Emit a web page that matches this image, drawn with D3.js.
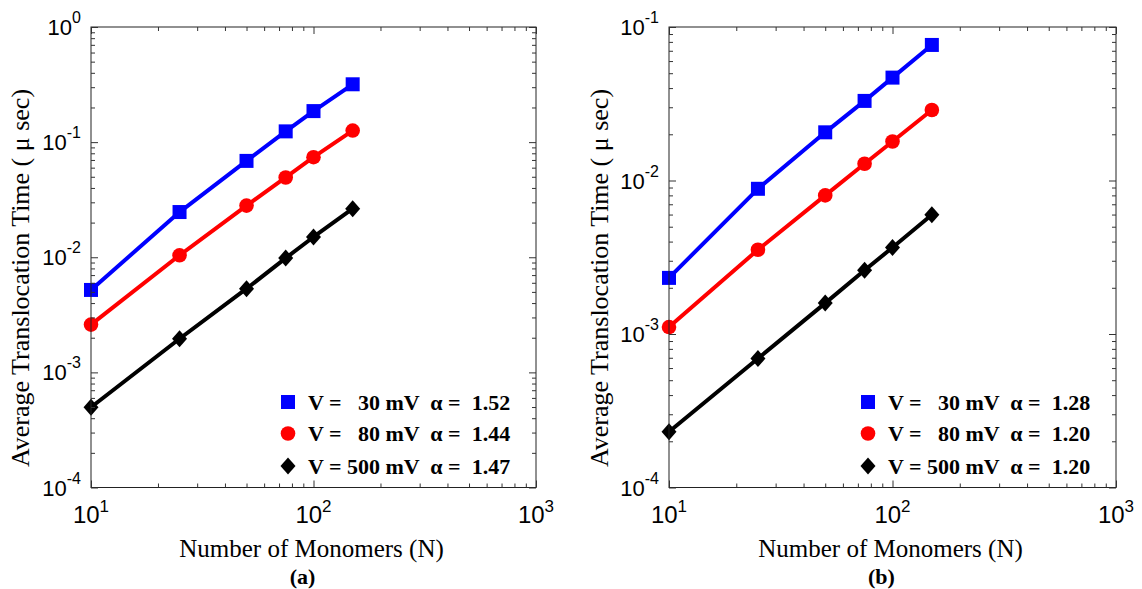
<!DOCTYPE html>
<html>
<head>
<meta charset="utf-8">
<title>Translocation time vs N</title>
<script src="https://cdn.jsdelivr.net/npm/d3@7"></script>
<style>
  body { margin: 0; background: white; }
  text { font-family: "Liberation Serif", "Times New Roman", serif; fill: black; }
  .tl { font-family: "Liberation Sans", Arial, sans-serif; }
  .legend text { font-weight: bold; font-size: 22px; white-space: pre; }
</style>
</head>
<body>
<script>
// chain length (x values, shared by every series)
const monomers = [10, 25, 50, 75, 100, 150];

// panel (a): average translocation time in microseconds
const timeA_30mV  = [0.0052, 0.0247, 0.0687, 0.124, 0.186, 0.318];
const timeA_80mV  = [0.0026, 0.0104, 0.0281, 0.0493, 0.074, 0.126];
const timeA_500mV = [0.000498, 0.00196, 0.00533, 0.00984, 0.0150, 0.0264];

// panel (b)
const timeB_30mV  = [0.00232, 0.00883, 0.0206, 0.033, 0.0468, 0.0764];
const timeB_80mV  = [0.00111, 0.00354, 0.0080, 0.01285, 0.01795, 0.0288];
const timeB_500mV = [0.000231, 0.000692, 0.00159, 0.0026, 0.00366, 0.00598];

const voltageLabels = ["V =   30 mV", "V =   80 mV", "V = 500 mV"];
const alphaA = ["1.52", "1.44", "1.47"];
const alphaB = ["1.28", "1.20", "1.20"];

// tick labels are 10^exp
const xTickExps = [1, 2, 3];
const yTickExpsA = [0, -1, -2, -3, -4];
const yTickExpsB = [-1, -2, -3, -4];

const colors = ["#0000ff", "#ff0000", "#000000"];
const shapes = ["square", "circle", "diamond"];

const width = 1142, height = 589;
const svg = d3.select("body").append("svg")
  .attr("width", width).attr("height", height);

function markerPath(shape) {
  if (shape == "square") return "M-7,-7H7V7H-7Z";
  if (shape == "diamond") return "M0,-8.5L7.5,0L0,8.5L-7.5,0Z";
  return d3.symbol(d3.symbolCircle, Math.PI * 7.3 * 7.3)();
}

function minorTicks(lo, hi) {
  let out = [];
  for (let e = lo; e < hi; e++)
    for (let m = 2; m <= 9; m++) out.push(m * Math.pow(10, e));
  return out;
}

function drawPanel(p) {
  const x = d3.scaleLog().domain([10, 1000]).range([p.left, p.right]);
  const y = d3.scaleLog().domain(p.yDomain).range([p.bottom, p.top]);
  const g = svg.append("g");

  // lines first, then markers
  p.series.forEach((vals, i) => {
    const pts = monomers.map((n, j) => [n, vals[j]]);
    g.append("path").datum(pts)
      .attr("fill", "none").attr("stroke", colors[i])
      .attr("stroke-width", 4).attr("stroke-linejoin", "round")
      .attr("d", d3.line().x(d => x(d[0])).y(d => y(d[1])));
  });
  p.series.forEach((vals, i) => {
    g.selectAll(null).data(monomers.map((n, j) => [n, vals[j]]))
      .enter().append("path")
      .attr("d", markerPath(shapes[i]))
      .attr("fill", colors[i])
      .attr("transform", d => `translate(${x(d[0])},${y(d[1])})`);
  });

  // frame
  g.append("rect").attr("x", p.left).attr("y", p.top)
    .attr("width", p.right - p.left).attr("height", p.bottom - p.top)
    .attr("fill", "none").attr("stroke", "#222").attr("stroke-width", 1);

  // inward ticks on all four sides
  const yLo = Math.round(Math.log10(p.yDomain[0])), yHi = Math.round(Math.log10(p.yDomain[1]));
  const xMaj = xTickExps.map(e => Math.pow(10, e));
  const yMaj = p.yExps.map(e => Math.pow(10, e));
  const xMin = minorTicks(1, 3), yMin = minorTicks(yLo, yHi);
  const sides = [
    [d3.axisBottom(x), p.bottom, null, xMaj, xMin, -1],
    [d3.axisTop(x), p.top, null, xMaj, xMin, -1],
    [d3.axisLeft(y), null, p.left, yMaj, yMin, -1],
    [d3.axisRight(y), null, p.right, yMaj, yMin, -1]
  ];
  sides.forEach(([ax, ty, tx, maj, min]) => {
    [[maj, 7], [min, 4]].forEach(([vals, len]) => {
      const a = g.append("g")
        .attr("transform", ty != null ? `translate(0,${ty})` : `translate(${tx},0)`)
        .call(ax.tickValues(vals).tickSize(-len).tickSizeOuter(0).tickFormat(""));
      a.select(".domain").remove();
      a.selectAll("line").attr("stroke", "#333");
    });
  });

  // x tick labels
  xTickExps.forEach(e => {
    const t = g.append("text").attr("class", "tl")
      .attr("x", x(Math.pow(10, e))).attr("y", p.bottom + 35.5)
      .attr("text-anchor", "middle").style("font-size", "24px");
    t.append("tspan").text("10");
    t.append("tspan").attr("dy", -11).style("font-size", "17px").text(e);
  });
  // y tick labels
  p.yExps.forEach(e => {
    const t = g.append("text").attr("class", "tl")
      .attr("x", p.left - 10).attr("y", y(Math.pow(10, e)) + 8)
      .attr("text-anchor", "end").style("font-size", "22px");
    t.append("tspan").text("10");
    t.append("tspan").attr("dy", -12).style("font-size", "16px").text(e);
  });

  // axis titles
  g.append("text")
    .attr("transform", `translate(${p.yLabelX},278) rotate(-90)`)
    .attr("text-anchor", "middle").style("font-size", "26px")
    .text("Average Translocation Time ( \u03bc sec)");
  const cx = (p.left + p.right) / 2;
  g.append("text").attr("x", cx - 2).attr("y", p.bottom + 69)
    .attr("text-anchor", "middle").style("font-size", "25px")
    .text("Number of Monomers (N)");
  g.append("text").attr("x", cx - 11).attr("y", 584)
    .attr("text-anchor", "middle").style("font-size", "22px").style("font-weight", "bold")
    .text(p.panelLabel);

  // legend
  const leg = g.append("g").attr("class", "legend");
  const rowY = [p.bottom - 85.5, p.bottom - 54, p.bottom - 21.5];
  voltageLabels.forEach((lab, i) => {
    leg.append("path").attr("d", markerPath(shapes[i])).attr("fill", colors[i])
      .attr("transform", `translate(${p.right - 248},${rowY[i]})`);
    leg.append("text").attr("x", p.right - 228).attr("y", rowY[i] + 7.5)
      .attr("xml:space", "preserve")
      .text(`${lab}  \u03b1 =  ${p.alpha[i]}`);
  });
}

drawPanel({
  left: 91, right: 536, top: 27, bottom: 487.5,
  yDomain: [1e-4, 1], yExps: yTickExpsA,
  series: [timeA_30mV, timeA_80mV, timeA_500mV],
  alpha: alphaA, yLabelX: 29, panelLabel: "(a)"
});
drawPanel({
  left: 669, right: 1116, top: 27, bottom: 487.5,
  yDomain: [1e-4, 1e-1], yExps: yTickExpsB,
  series: [timeB_30mV, timeB_80mV, timeB_500mV],
  alpha: alphaB, yLabelX: 608, panelLabel: "(b)"
});
</script>
</body>
</html>
